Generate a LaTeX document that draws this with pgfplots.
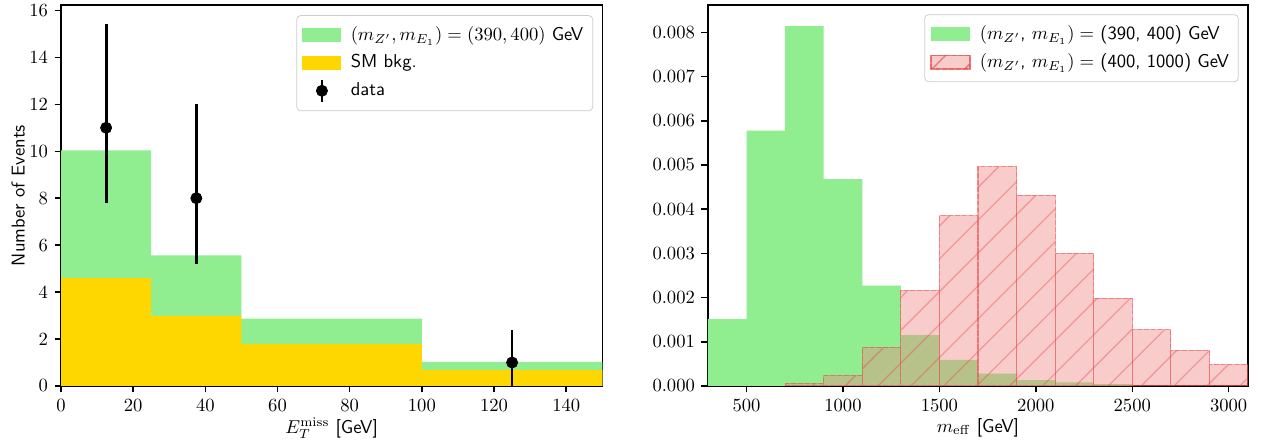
\documentclass[border=0pt]{standalone}
\usepackage{pgfplots}
\pgfplotsset{compat=1.18}
\usetikzlibrary{patterns.meta}
\renewcommand{\familydefault}{\sfdefault}
\definecolor{sig}{HTML}{90EE90}
\definecolor{bkg}{HTML}{FFD700}
\definecolor{coral}{RGB}{240,128,128}
\definecolor{hatchred}{RGB}{235,70,70}
\tikzset{hatched/.style={fill=coral, fill opacity=0.4, draw=hatchred, draw opacity=0.4,
    dash pattern=on 2.5pt off 1.2pt, line width=0.6pt,
    postaction={solid, pattern={Lines[angle=45, distance=12.5pt, line width=0.7pt]}, pattern color=hatchred}}}

\begin{document}
\begin{tikzpicture}
\useasboundingbox (0pt,0pt) rectangle (677.9pt,237.6pt);
\pgfplotsset{
  every axis/.append style={
    scale only axis, width=291pt, height=204.8pt,
    tick align=outside, tick pos=left, major tick length=3.5pt,
    axis line style={line width=0.8pt},
    every tick/.style={black, line width=0.8pt},
    xlabel shift=-3pt,
    legend cell align=left,
    legend style={draw=black!20, rounded corners=2pt, fill=white,
      row sep=2pt, inner xsep=3pt, inner ysep=4pt,
      /tikz/every odd column/.append style={column sep=3pt}},
  },
  /pgf/number format/1000 sep={},
}

% ---- left: missing E_T ----
\begin{axis}[
    at={(32.8pt,30.1pt)}, anchor=south west,
    xmin=0, xmax=150, ymin=0, ymax=16.23,
    xtick={0,20,...,140}, ytick={0,2,...,16},
    xlabel={$E_T^{\rm miss}$ [GeV]},
    ylabel={Number of Events},
    ylabel shift=-4.5pt,
    legend style={at={(1,1)}, anchor=north east, xshift=-5pt, yshift=-5.5pt},
  ]
  % signal stacked on top of background
  \addplot[const plot, fill=sig, draw=none,
    legend image code/.code={\fill[sig, sharp corners] (0pt,-3.7pt) rectangle (21pt,3.7pt);}]
    coordinates {(0,10.04) (25,5.56) (50,2.87) (100,1.03) (150,1.03)} \closedcycle;
  \addplot[const plot, fill=bkg, draw=none,
    legend image code/.code={\fill[bkg, sharp corners] (0pt,-3.7pt) rectangle (21pt,3.7pt);}]
    coordinates {(0,4.59) (25,2.99) (50,1.78) (100,0.68) (150,0.68)} \closedcycle;
  \addplot[only marks, mark=*, mark size=3pt, black,
    legend image code/.code={
      \draw[black, line width=1.5pt] (10.5pt,-6pt) -- (10.5pt,6pt);
      \fill[black] (10.5pt,0pt) circle (3pt);},
    error bars/.cd, y dir=both, y explicit, error mark=none,
    error bar style={line width=1.5pt}]
    coordinates {
      (12.5,11) += (0,4.4) -= (0,3.2)
      (37.5,8)  += (0,4.0) -= (0,2.8)
      (125,1)   += (0,1.4) -= (0,1.0)
    };
  \addlegendentry{$(m_{Z'}, m_{E_1}) = (390, 400)$ GeV}
  \addlegendentry{SM bkg.}
  \addlegendentry{data}
\end{axis}

% ---- right: m_eff ----
\begin{axis}[
    at={(380.6pt,30.1pt)}, anchor=south west,
    width=290.3pt,
    xmin=300, xmax=3100, ymin=0, ymax=0.00862,
    xtick={500,1000,1500,2000,2500,3000},
    ytick={0,0.001,0.002,0.003,0.004,0.005,0.006,0.007,0.008},
    scaled y ticks=false,
    yticklabel style={/pgf/number format/.cd, fixed, fixed zerofill, precision=3},
    xlabel={$m_{\rm eff}$ [GeV]},
    legend style={at={(1,1)}, anchor=north east, xshift=-5pt, yshift=-5pt},
  ]
  \addplot[const plot, fill=sig, draw=none,
    legend image code/.code={\fill[sig, sharp corners] (0pt,-3.7pt) rectangle (21pt,3.7pt);}]
    coordinates {(300,0.00151) (500,0.00578) (700,0.00814) (900,0.00468)
      (1100,0.00227) (1300,0.00115) (1500,0.00059) (1700,0.00028)
      (1900,0.00013) (2100,0.00008) (2300,0.00004) (2500,0.00004)} \closedcycle;
  \addplot[ybar, bar width=200, bar shift=0pt, hatched,
    legend image code/.code={\path[hatched, sharp corners] (0pt,-3.7pt) rectangle (21pt,3.7pt);}]
    coordinates {(800,0.00005) (1000,0.00023) (1200,0.000865) (1400,0.00216)
      (1600,0.00385) (1800,0.00496) (2000,0.00431) (2200,0.00300)
      (2400,0.00198) (2600,0.00127) (2800,0.00080) (3000,0.000485)};
  \addlegendentry{$(m_{Z'}$, $m_{E_1}) =$ (390, 400) GeV}
  \addlegendentry{$(m_{Z'}$, $m_{E_1}) =$ (400, 1000) GeV}
\end{axis}
\end{tikzpicture}
\end{document}
